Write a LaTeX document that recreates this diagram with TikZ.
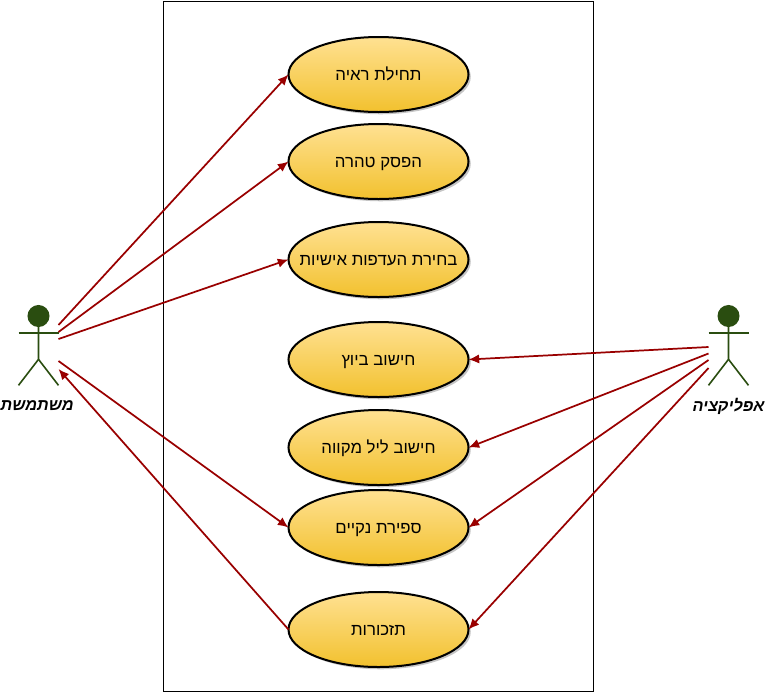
\documentclass[tikz,border=0pt]{standalone}
\usepackage{fontspec}
\setmainfont{Liberation Sans}
\newfontfamily\hebfont[Script=Hebrew]{Liberation Sans}
\TeXXeTstate=1
\usetikzlibrary{arrows.meta,shapes.geometric,shadows,positioning}
\definecolor{usecasetop}{HTML}{FFE192}
\definecolor{usecasebottom}{HTML}{F2C12E}
\definecolor{actorgreen}{HTML}{2A4D10}
\definecolor{linkred}{HTML}{990000}
\newcommand{\hebtext}[1]{{\hebfont\beginR #1\endR}}
\tikzset{
    usecase/.style={
           ellipse,
           draw=black, line width=1.5pt,
           minimum width=135pt,
           minimum height=56.25pt,
           inner xsep=-30pt, inner ysep=0pt, outer sep=0pt,
           top color=usecasetop, bottom color=usecasebottom,
           drop shadow={shadow xshift=1.7pt,shadow yshift=-1.7pt,fill=black!45},
           font=\fontsize{12.6pt}{14pt}\selectfont,
           text height=10.5pt, text depth=1pt,
           text centered},
    systembox/.style={
           rectangle,
           draw=black, line width=0.6pt,
           fill=white,
           inner sep=0pt, outer sep=0pt,
           minimum width=322.5pt,
           minimum height=517.5pt},
    actorhead/.style={
           circle,
           draw=actorgreen, fill=actorgreen,
           line width=1pt,
           inner sep=0pt, outer sep=0pt,
           minimum size=15.5pt},
    actorline/.style={draw=actorgreen, line width=1.2pt},
    actorlabel/.style={
           font=\fontsize{12.2pt}{14pt}\selectfont\bfseries\itshape,
           text=black},
    link/.style={color=linkred, line width=1.3pt, -{Latex[length=8pt,width=7pt]}},
}
\begin{document}
\begin{tikzpicture}[x=0.75pt,y=-0.75pt]

 \useasboundingbox (0,0) rectangle (766,693);

 \node[systembox] (SYSTEM) at (378.5,346) {};

 \node[usecase] (ONSET) at (378.5,74.5) {\hebtext{תחילת ראיה}};

 \node[usecase,
 below of=ONSET,
 node distance=65.25pt] (PAUSE) 
 {\hebtext{הפסק טהרה}};

 \node[usecase,
 below of=PAUSE,
 node distance=73.5pt] (PREFS) 
 {\hebtext{בחירת העדפות אישיות}};

 \node[usecase,
 below of=PREFS,
 node distance=75pt] (OVULATION) 
 {\hebtext{חישוב ביוץ}};

 \node[usecase,
 below of=OVULATION,
 node distance=66pt] (MIKVEH) 
 {\hebtext{חישוב ליל מקווה}};

 \node[usecase,
 below of=MIKVEH,
 node distance=60pt] (CLEANDAYS) 
 {\hebtext{ספירת נקיים}};

 \node[usecase,
 below of=CLEANDAYS,
 node distance=76.5pt] (REMINDERS) 
 {\hebtext{תזכורות}};

 % actors
 \node[actorhead] (USERHEAD) at (38.5,316) {};
 \draw[actorline] (USERHEAD.south) -- ++(0,33) coordinate (USERHIP)
   -- ++(-20,26);
 \draw[actorline] (USERHIP) -- ++(20,26);
 \draw[actorline] (18.5,333) -- (58.5,333);
 \node[actorlabel,
 below of=USERHEAD,
 node distance=67.5pt,
 xshift=-1pt] (USERLABEL) 
 {\hebtext{משתמשת}};

 \node[actorhead] (APPHEAD) at (728.5,316) {};
 \draw[actorline] (APPHEAD.south) -- ++(0,33) coordinate (APPHIP)
   -- ++(-20,26);
 \draw[actorline] (APPHIP) -- ++(20,26);
 \draw[actorline] (708.5,333) -- (748.5,333);
 \node[actorlabel,
 below of=APPHEAD,
 node distance=67.5pt] (APPLABEL) 
 {\hebtext{אפליקציה}};

 \coordinate (USERA) at (58.5,325);
 \coordinate (USERB) at (58.5,332);
 \coordinate (USERC) at (58.5,339);
 \coordinate (USERD) at (58.5,361);
 \coordinate (USERE) at (58.5,369);
 \coordinate (APPA) at (708.5,347);
 \coordinate (APPB) at (708.5,353.5);
 \coordinate (APPC) at (708.5,360);
 \coordinate (APPD) at (708.5,368);

 \draw[link] (USERA) -- (ONSET.west);
 \draw[link] (USERB) -- (PAUSE.west);
 \draw[link] (USERC) -- (PREFS.west);
 \draw[link] (USERD) -- (CLEANDAYS.west);
 \draw[link] (REMINDERS.west) -- (USERE);
 \draw[link] (APPA) -- (OVULATION.east);
 \draw[link] (APPB) -- (MIKVEH.east);
 \draw[link] (APPC) -- (CLEANDAYS.east);
 \draw[link] (APPD) -- (REMINDERS.east);

\end{tikzpicture}
\end{document}
